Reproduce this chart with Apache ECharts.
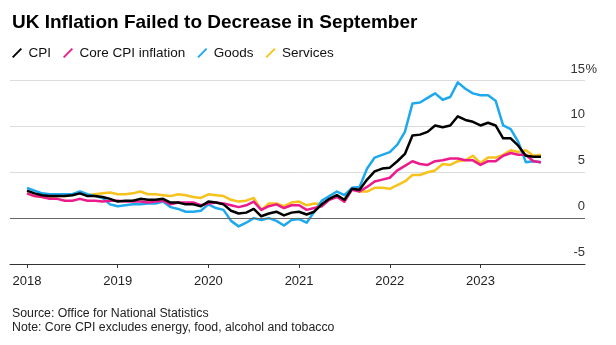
<!DOCTYPE html>
<html><head><meta charset="utf-8">
<script src="https://cdn.jsdelivr.net/npm/echarts@6/dist/echarts.min.js"></script>
<style>html,body{margin:0;padding:0;background:#fff}#c{width:616px;height:345px}</style>
</head><body><div id="c"></div>
<script>
// Monthly values, Jan 2018 .. Sep 2023 (% y/y)
const yearLabels = ['2018', '2019', '2020', '2021', '2022', '2023'];
const yTicks = [-5, 0, 5, 10, 15];
const cpi = [
  3.0, 2.7, 2.5, 2.4, 2.4, 2.4, 2.5, 2.7, 2.4, 2.4, 2.3, 2.1,
  1.8, 1.9, 1.9, 2.1, 2.0, 2.0, 2.1, 1.7, 1.7, 1.5, 1.5, 1.3,
  1.8, 1.7, 1.5, 0.8, 0.5, 0.6, 1.0, 0.2, 0.5, 0.7, 0.3, 0.6,
  0.7, 0.4, 0.7, 1.5, 2.1, 2.5, 2.0, 3.2, 3.1, 4.2, 5.1, 5.4,
  5.5, 6.2, 7.0, 9.0, 9.1, 9.4, 10.1, 9.9, 10.1, 11.1, 10.7, 10.5,
  10.1, 10.4, 10.1, 8.7, 8.7, 7.9, 6.8, 6.7, 6.7
];
const core = [
  2.7, 2.4, 2.3, 2.1, 2.1, 1.9, 1.9, 2.1, 1.9, 1.9, 1.8, 1.9,
  1.9, 1.8, 1.8, 1.8, 1.7, 1.8, 1.9, 1.5, 1.7, 1.7, 1.7, 1.4,
  1.6, 1.7, 1.6, 1.4, 1.2, 1.4, 1.8, 0.9, 1.3, 1.5, 1.1, 1.4,
  1.4, 0.9, 1.1, 1.3, 2.0, 2.3, 1.8, 3.1, 2.9, 3.4, 4.0, 4.2,
  4.4, 5.2, 5.7, 6.2, 5.9, 5.8, 6.2, 6.3, 6.5, 6.5, 6.3, 6.3,
  5.8, 6.2, 6.2, 6.8, 7.1, 6.9, 6.9, 6.2, 6.1
];
const goods = [
  3.3, 3.0, 2.7, 2.6, 2.6, 2.6, 2.6, 2.9, 2.6, 2.4, 2.2, 1.5,
  1.3, 1.4, 1.5, 1.5, 1.6, 1.6, 1.8, 1.2, 1.0, 0.7, 0.7, 0.8,
  1.5, 1.1, 0.9, -0.3, -0.9, -0.5, 0.0, -0.2, 0.0, -0.3, -0.8, -0.2,
  -0.1, -0.5, 0.7, 1.9, 2.4, 2.9, 2.5, 3.3, 3.4, 5.4, 6.6, 6.9,
  7.2, 8.0, 9.4, 12.5, 12.6, 13.1, 13.6, 12.9, 13.2, 14.8, 14.1, 13.6,
  13.4, 13.4, 12.8, 10.1, 9.7, 8.3, 6.1, 6.2, 6.1
];
const services = [
  2.7, 2.4, 2.3, 2.3, 2.4, 2.4, 2.6, 2.8, 2.5, 2.6, 2.7, 2.8,
  2.6, 2.6, 2.7, 2.9, 2.6, 2.6, 2.5, 2.4, 2.6, 2.5, 2.3, 2.2,
  2.6, 2.5, 2.4, 2.0, 1.8, 1.9, 2.2, 0.9, 1.6, 1.6, 1.3, 1.7,
  1.8, 1.4, 1.6, 1.5, 2.0, 2.4, 1.8, 3.2, 2.9, 2.9, 3.3, 3.3,
  3.2, 3.6, 4.0, 4.7, 4.7, 5.0, 5.2, 5.9, 5.8, 6.2, 6.3, 6.8,
  6.0, 6.6, 6.6, 6.9, 7.4, 7.2, 7.4, 6.8, 6.9
];
const seriesNames = ['CPI', 'Core CPI inflation', 'Goods', 'Services'];
const seriesColors = ['#000000', '#ec1b8c', '#1ea9ee', '#f8c21c'];

const yearTickValues = yearLabels.map((_, i) => i * 12);
const toPairs = arr => arr.map((v, i) => [i, v]);
const F = '"Liberation Sans", Arial, Helvetica, sans-serif';
const X_MIN = -2.25, X_MAX = 73.83;

const chart = echarts.init(document.getElementById('c'));
const seriesData = [cpi, core, goods, services];
const zOrder = [6, 5, 4, 3];

chart.setOption({
  animation: false,
  backgroundColor: '#fff',
  textStyle: { fontFamily: F },
  title: [
    {
      text: 'UK Inflation Failed to Decrease in September',
      left: 12, top: 13, padding: 0,
      textStyle: { fontFamily: F, fontSize: 19, fontWeight: 'bold', color: '#000' }
    },
    {
      text: 'Source: Office for National Statistics\nNote: Core CPI excludes energy, food, alcohol and tobacco',
      left: 12, top: 306, padding: 0,
      textStyle: { fontFamily: F, fontSize: 12.3, fontWeight: 'normal', color: '#222', lineHeight: 14.5 }
    }
  ],
  legend: {
    data: seriesNames,
    left: 12, top: 46, padding: 0,
    icon: 'path://M0,9.5 L9.5,0 L11,1.5 L1.5,11 Z',
    itemWidth: 11, itemHeight: 10, itemGap: 12,
    itemStyle: { borderWidth: 0 },
    textStyle: { fontFamily: F, fontSize: 13.5, color: '#111', padding: [0, 0, 0, 1] }
  },
  grid: { left: 10, right: 31, top: 80.5, bottom: 81, outerBoundsMode: 'none', containLabel: false },
  xAxis: {
    type: 'value',
    min: X_MIN, max: X_MAX,
    splitLine: { show: false },
    axisLine: { show: true, onZero: false, lineStyle: { color: '#333', width: 1 } },
    axisTick: { show: true, customValues: yearTickValues, length: 4, lineStyle: { color: '#333' } },
    axisLabel: {
      customValues: yearTickValues,
      formatter: v => yearLabels[Math.round(v / 12)],
      fontFamily: F, fontSize: 13, color: '#222', margin: 11
    }
  },
  yAxis: {
    type: 'value',
    position: 'right',
    min: yTicks[0], max: yTicks[yTicks.length - 1], interval: 5,
    axisLine: { show: false },
    axisTick: { show: false },
    splitLine: { lineStyle: { color: '#dcdcdc', width: 1 } },
    axisLabel: {
      inside: true, margin: 0,
      verticalAlign: 'bottom',
      padding: [0, 0, 5, 0],
      fontFamily: F, fontSize: 13, color: '#333'
    }
  },
  series: seriesNames.map((name, k) => ({
    name,
    type: 'line',
    data: toPairs(seriesData[k]),
    symbol: 'none',
    showSymbol: false,
    z: zOrder[k],
    color: seriesColors[k],
    lineStyle: { color: seriesColors[k], width: 2.5, join: 'round' },
    emphasis: { disabled: true },
    silent: true,
    markLine: k === 3 ? {
      silent: true, symbol: 'none', label: { show: false },
      lineStyle: { color: '#666', width: 1, type: 'solid' },
      data: [{ yAxis: 0 }]
    } : undefined
  }))
});

// "%" unit hanging to the right of the top tick label
const topY = chart.convertToPixel({ yAxisIndex: 0 }, yTicks[yTicks.length - 1]);
const rightX = chart.convertToPixel({ xAxisIndex: 0 }, X_MAX);
chart.setOption({
  graphic: [{
    type: 'text', left: rightX + 0.5, top: topY - 5 - 13,
    style: { text: '%', fontFamily: F, fontSize: 13, fill: '#333' }, silent: true
  }]
});
</script></body></html>
